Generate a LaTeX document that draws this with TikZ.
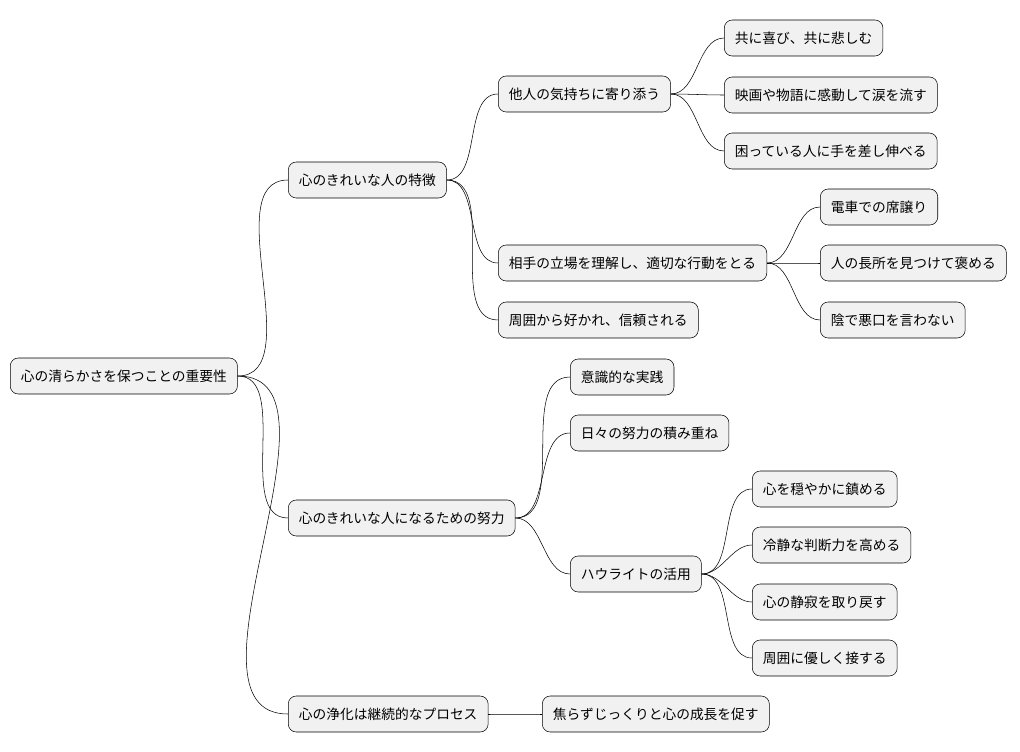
\documentclass[tikz,border=0pt]{standalone}
\usepackage{fontspec}
\setmainfont{Noto Sans CJK JP}
\usetikzlibrary{positioning}
\definecolor{boxfill}{HTML}{F1F1F1}

\begin{document}
\begin{tikzpicture}[x=0.75pt,y=-0.75pt,
    topic/.style={rectangle, draw, fill=boxfill, rounded corners=6pt,
      anchor=west, minimum height=27pt, inner xsep=8pt,
      font=\fontsize{10.3}{12}\selectfont},
    link/.style={out=0, in=180, looseness=0.9}]
    \useasboundingbox (0,0) rectangle (1020,752);
    \node[topic] (root) at (10,376) {心の清らかさを保つことの重要性};
    % first level
    \node[topic] (A) at (288,180) {心のきれいな人の特徴};
    \node[topic] (B) at (288,518) {心のきれいな人になるための努力};
    \node[topic] (C) at (288,714) {心の浄化は継続的なプロセス};
    % features
    \node[topic] (A1) at (498,94) {他人の気持ちに寄り添う};
    \node[topic] (A2) at (498,263) {相手の立場を理解し、適切な行動をとる};
    \node[topic] (A3) at (498,320) {周囲から好かれ、信頼される};
    \node[topic] (A11) at (724,38) {共に喜び、共に悲しむ};
    \node[topic] (A12) at (724,95) {映画や物語に感動して涙を流す};
    \node[topic] (A13) at (724,151) {困っている人に手を差し伸べる};
    \node[topic] (A21) at (820,207) {電車での席譲り};
    \node[topic] (A22) at (820,263) {人の長所を見つけて褒める};
    \node[topic] (A23) at (820,320) {陰で悪口を言わない};
    % efforts
    \node[topic] (B1) at (570,377) {意識的な実践};
    \node[topic] (B2) at (570,433) {日々の努力の積み重ね};
    \node[topic] (B3) at (570,574) {ハウライトの活用};
    \node[topic] (B31) at (752,489) {心を穏やかに鎮める};
    \node[topic] (B32) at (752,545) {冷静な判断力を高める};
    \node[topic] (B33) at (752,602) {心の静寂を取り戻す};
    \node[topic] (B34) at (752,658) {周囲に優しく接する};
    % process
    \node[topic] (C1) at (542,714) {焦らずじっくりと心の成長を促す};
    \foreach \p/\c in {root/A,root/B,root/C,A/A1,A/A2,A/A3,
        A1/A11,A1/A12,A1/A13,A2/A21,A2/A22,A2/A23,
        B/B1,B/B2,B/B3,B3/B31,B3/B32,B3/B33,B3/B34,C/C1}
      \draw (\p.east) to[link] (\c.west);
\end{tikzpicture}
\end{document}
